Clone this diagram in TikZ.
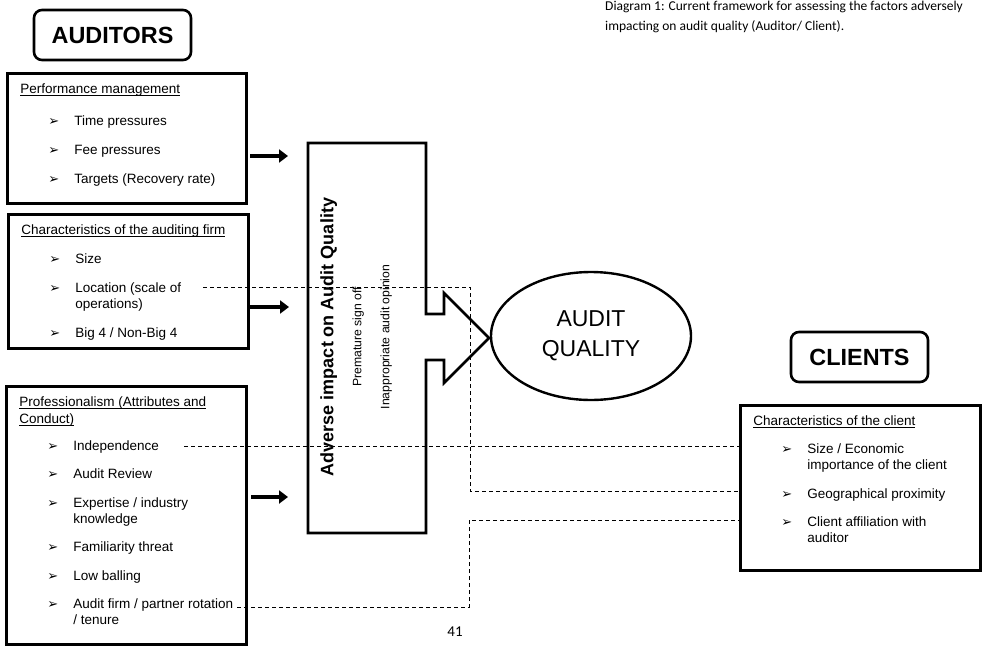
\documentclass[tikz,border=0pt]{standalone}
\usepackage{fontspec}
\setmainfont{Liberation Sans}
\newfontfamily\capfont{Carlito}
\newfontfamily\symfont{DejaVu Sans}
\usetikzlibrary{arrows.meta, positioning, shapes.geometric}

\newcommand{\bul}{{\symfont\fontsize{13}{12}\selectfont ➢}}
\newcommand{\itm}[1]{\hspace*{28pt}\makebox[26pt][l]{\bul}\begin{tabular}[t]{@{}l@{}}#1\end{tabular}}
\newcommand{\ul}[1]{\setbox0\hbox{#1}\rlap{\rule[-2pt]{\wd0}{0.7pt}}\box0}
\newcommand{\boxtext}[3]{\parbox[t][#2][t]{#1}{\fontsize{13.5}{16}\selectfont\strut #3}}

\begin{document}
\begin{tikzpicture}[x=1pt, y=-1pt,
  factor/.style={draw, line width=2.6pt, anchor=north west, inner xsep=13pt, inner ysep=9pt},
  heading/.style={draw, line width=2.6pt, rounded corners=8pt, minimum width=#1, minimum height=50pt,
    font=\fontsize{23.4}{28}\selectfont\bfseries},
  fatarrow/.style={line width=4.5pt, -{Triangle[length=9pt,width=13pt]}},
  link/.style={line width=0.9pt, dash pattern=on 4pt off 3pt}]
\useasboundingbox (0,0) rectangle (989,646);

% caption and page number
\node[anchor=north west, inner sep=0pt, align=left, font=\capfont\fontsize{13.5}{20}\selectfont] (caption) at (605,0.5)
  {Diagram 1: Current framework for assessing the factors adversely\\impacting on audit quality (Auditor/ Client).};
\node[font=\capfont\fontsize{15}{18}\selectfont] (pagenum) at (455,632) {41};

% group headings
\node[heading=157pt] (auditors) at (112.5,35) {AUDITORS};
\node[heading=137pt] (clients) at (859.5,357) {CLIENTS};

% auditor side
\node[factor] (perf) at (6,72) {\boxtext{213pt}{112pt}{%
  \ul{Performance management}\\[16pt]
  \itm{Time pressures}\\[13pt]
  \itm{Fee pressures}\\[13pt]
  \itm{Targets (Recovery rate)}}};
\node[factor] (firm) at (7,213) {\boxtext{214pt}{116pt}{%
  \ul{Characteristics of the auditing firm}\\[13pt]
  \itm{Size}\\[13pt]
  \itm{Location (scale of\\operations)}\\[12pt]
  \itm{Big 4 / Non-Big 4}}};
\node[factor] (prof) at (5,385) {\boxtext{214pt}{240pt}{%
  \ul{Professionalism (Attributes and}\\[1pt]
  \ul{Conduct)}\\[11pt]
  \itm{Independence}\\[12pt]
  \itm{Audit Review}\\[13pt]
  \itm{Expertise / industry\\knowledge}\\[11pt]
  \itm{Familiarity threat}\\[13pt]
  \itm{Low balling}\\[12pt]
  \itm{Audit firm / partner rotation\\/ tenure}}};

% client side
\node[factor] (client) at (739,404) {\boxtext{214pt}{147pt}{%
  \ul{Characteristics of the client}\\[12pt]
  \itm{Size / Economic\\importance of the client}\\[12pt]
  \itm{Geographical proximity}\\[12pt]
  \itm{Client affiliation with\\auditor}}};

% impact block arrow
\draw[line width=2.6pt, line join=miter]
  (426,314) -- (426,143) -- (308,143) -- (308,533) -- (426,533) -- (426,360)
  -- (444,360) -- (444,383) -- (489,338) coordinate (tip) -- (444,293) -- (444,314) -- cycle;
\node[rotate=90, align=center, inner sep=0pt, font=\fontsize{12.2}{28}\selectfont] (impact) at (356,337)
  {{\fontsize{18}{22}\selectfont\bfseries Adverse impact on Audit Quality}\\
   Premature sign off\\
   Inappropriate audit opinion};

\node[draw, ellipse, line width=2.4pt, minimum width=200pt, minimum height=128pt, align=center,
  font=\fontsize{23}{30}\selectfont] (quality) at (591,336) {AUDIT\\QUALITY};

% thick arrows into the block
\coordinate (p1) at (250,156);
\coordinate (q1) at (288,156);
\coordinate (p2) at (250,307);
\coordinate (q2) at (289,307);
\coordinate (p3) at (251,497);
\coordinate (q3) at (288,497);
\draw[fatarrow] (p1) -- (q1);
\draw[fatarrow] (p2) -- (q2);
\draw[fatarrow] (p3) -- (q3);

% dashed links to the client factors
\coordinate (loc) at (203,287);
\coordinate (k1) at (470,491);
\coordinate (ind) at (184,446);
\coordinate (rot) at (237,607);
\coordinate (k3) at (469,520);
\draw[link] (loc) -| (k1) -- (k1 -| client.west);
\draw[link] (ind) -- (ind -| client.west);
\draw[link] (rot) -| (k3) -- (k3 -| client.west);
\end{tikzpicture}
\end{document}
